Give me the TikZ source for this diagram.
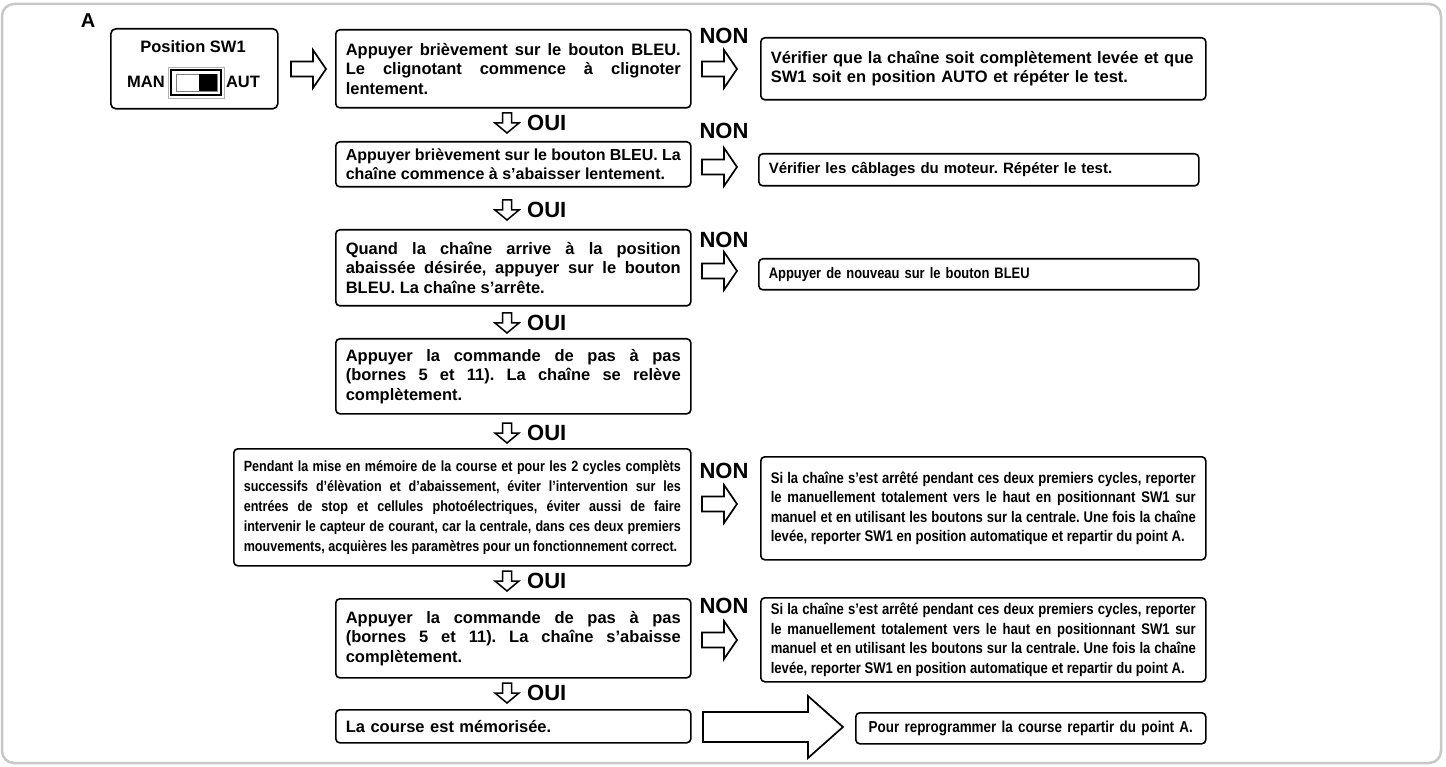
\documentclass[tikz,border=0pt]{standalone}
\usepackage{fontspec}
\setmainfont{Liberation Sans}
\newfontfamily\cnd{Liberation Sans}[FakeStretch=0.85]
\usetikzlibrary{calc}
\frenchspacing
\definecolor{framegray}{HTML}{C8C8C8}
\tikzset{
  box/.style={draw, line width=1.6pt, rounded corners=4pt, anchor=north west,
    inner xsep=10pt, inner ysep=0pt, align=justify,
    font=\bfseries\fontsize{16.5}{19.5}\selectfont},
  hol/.style={draw, line width=1.7pt, fill=white, line join=miter},
  lbl/.style={font=\bfseries\fontsize{22}{24}\selectfont, inner sep=0pt},
  pics/rarr/.style={code={\draw[hol] (-17,-7.5) -- (5,-7.5) -- (5,-19) -- (18,0) -- (5,19) -- (5,7.5) -- (-17,7.5) -- cycle;}},
  pics/darr/.style={code={\draw[draw, line width=1.5pt, fill=white, line join=miter] (-4.5,-10) -- (-4.5,0) -- (-12,0) -- (0,10) -- (12,0) -- (4.5,0) -- (4.5,-10) -- cycle;}},
}
\begin{document}
\begin{tikzpicture}[x=1pt,y=-1pt]
\useasboundingbox (0,0) rectangle (1446,767);
\draw[framegray, line width=2.5pt, rounded corners=12pt] (2,4) rectangle (1441,763);

% start
\node[font=\bfseries\fontsize{20}{22}\selectfont, inner sep=0pt] (lA) at (88,21) {A};
\node[draw, line width=1.6pt, rounded corners=5pt, anchor=north west, minimum width=167pt, minimum height=80pt, inner sep=0pt] (sw) at (110,28) {};
\node[font=\bfseries\fontsize{16.5}{18}\selectfont, inner sep=0pt] (swt) at (193,47) {Position SW1};
\node[font=\bfseries\fontsize{16.5}{18}\selectfont, inner sep=0pt] (man) at (146,82) {MAN};
\node[font=\bfseries\fontsize{16.5}{18}\selectfont, inner sep=0pt] (aut) at (243,82) {AUT};
\draw[gray!60, line width=0.8pt] (168,67) rectangle (224,98);
\draw[line width=1.5pt] (171,70) rectangle (221,95);
\draw[gray, line width=0.8pt, fill=white] (176,74) rectangle (217,91);
\fill (199,74) rectangle (217,91);
\pic at (308,69) {rarr};

% main column
\node[box, minimum width=355pt, text width=335pt, minimum height=78pt] (b1) at (335,29)
 {Appuyer brièvement sur le bouton BLEU.\linebreak Le clignotant commence à clignoter\linebreak lentement.};
\node[box, minimum width=355pt, text width=335pt, minimum height=45pt, font=\bfseries\fontsize{16}{18.5}\selectfont] (b2) at (335,141)
 {\parfillskip=0pt Appuyer brièvement sur le bouton BLEU. La\linebreak chaîne commence à s’abaisser lentement.};
\node[box, minimum width=355pt, text width=335pt, minimum height=76pt] (b3) at (335,229)
 {Quand la chaîne arrive à la position\linebreak abaissée désirée, appuyer sur le bouton\linebreak BLEU. La chaîne s’arrête.};
\node[box, minimum width=355pt, text width=335pt, minimum height=75pt] (b4) at (335,338)
 {Appuyer la commande de pas à pas\linebreak (bornes 5 et 11). La chaîne se relève\linebreak complètement.};
\node[box, minimum width=457pt, text width=437pt, minimum height=117pt, font=\cnd\bfseries\fontsize{14.8}{20}\selectfont] (b5) at (233,448)
 {\parfillskip=0pt Pendant la mise en mémoire de la course et pour les 2 cycles complèts\linebreak successifs d’élèvation et d’abaissement, éviter l’intervention sur les\linebreak entrées de stop et cellules photoélectriques, éviter aussi de faire\linebreak intervenir le capteur de courant, car la centrale, dans ces deux premiers\linebreak mouvements, acquières les paramètres pour un fonctionnement correct.};
\node[box, minimum width=355pt, text width=335pt, minimum height=79pt] (b6) at (335,598)
 {Appuyer la commande de pas à pas\linebreak (bornes 5 et 11). La chaîne s’abaisse\linebreak complètement.};
\node[box, minimum width=355pt, text width=335pt, minimum height=33pt, align=left] (b7) at (335,709)
 {La course est mémorisée.};

% OUI arrows
\foreach \yy/\nm in {123/o1,210/o2,323/o3,433/o4,581/o5,693/o6}{
  \pic at (507,\yy) {darr};
  \node[lbl, anchor=west] (\nm) at (527,\yy) {OUI};
}

% NON branches
\node[lbl] (no1) at (724,36) {NON};
\pic at (719,69) {rarr};
\node[box, minimum width=445pt, text width=425pt, minimum height=62pt, align=left] (n1) at (760,37)
 {Vérifier que la chaîne soit complètement levée et que\\SW1 soit en position AUTO et répéter le test.};

\node[lbl] (no2) at (724,131) {NON};
\pic at (719,167) {rarr};
\node[box, minimum width=440pt, text width=420pt, minimum height=32pt, align=left, font=\bfseries\fontsize{15}{18}\selectfont] (n2) at (758,153)
 {Vérifier les câblages du moteur. Répéter le test.};

\node[lbl] (no3) at (724,240) {NON};
\pic at (719,271) {rarr};
\node[box, minimum width=440pt, text width=420pt, minimum height=31pt, align=left, font=\cnd\bfseries\fontsize{15.2}{18}\selectfont] (n3) at (758,258)
 {Appuyer de nouveau sur le bouton BLEU};

\node[lbl] (no5) at (724,471) {NON};
\pic at (719,504) {rarr};
\node[box, minimum width=445pt, text width=425pt, minimum height=103pt, font=\cnd\bfseries\fontsize{15.4}{19.5}\selectfont] (n5) at (760,456)
 {\parfillskip=0pt Si la chaîne s’est arrêté pendant ces deux premiers cycles, reporter\linebreak le manuellement totalement vers le haut en positionnant SW1 sur\linebreak manuel et en utilisant les boutons sur la centrale. Une fois la chaîne\linebreak levée, reporter SW1 en position automatique et repartir du point A.};

\node[lbl] (no6) at (724,606) {NON};
\pic at (719,640) {rarr};
\node[box, minimum width=445pt, text width=425pt, minimum height=84pt, font=\cnd\bfseries\fontsize{15.4}{19.5}\selectfont] (n6) at (760,597)
 {\parfillskip=0pt Si la chaîne s’est arrêté pendant ces deux premiers cycles, reporter\linebreak le manuellement totalement vers le haut en positionnant SW1 sur\linebreak manuel et en utilisant les boutons sur la centrale. Une fois la chaîne\linebreak levée, reporter SW1 en position automatique et repartir du point A.};

% final
\draw[hol] (703,712) -- (808,712) -- (808,696) -- (843,727) -- (808,758) -- (808,742) -- (703,742) -- cycle;
\node[box, minimum width=350pt, text width=344pt, inner xsep=3pt, minimum height=31pt, align=center, font=\cnd\bfseries\fontsize{15.8}{19}\selectfont] (nf) at (855,712)
 {Pour reprogrammer la course repartir du point A.};
\end{tikzpicture}
\end{document}
